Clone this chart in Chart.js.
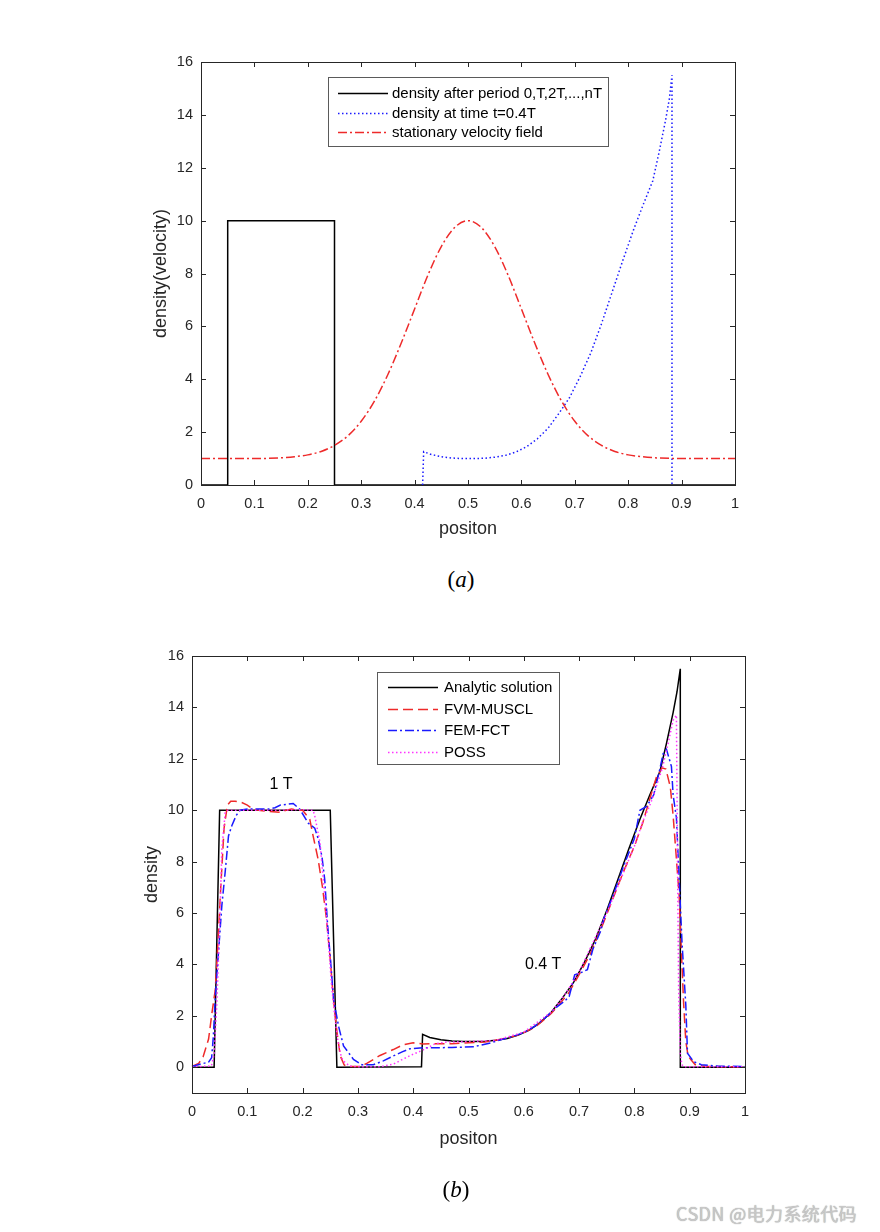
<!DOCTYPE html>
<html>
<head>
    <meta charset="utf-8">
    <title>Density transport</title>
    <script src="https://cdn.jsdelivr.net/npm/chart.js"></script>
    <style>
        body { margin: 0; background: #fff; }
        #page { position: relative; width: 880px; height: 1232px; background: #fff; overflow: hidden; }
        canvas { position: absolute; left: 0; }
        .cap { position: absolute; width: 100px; text-align: center; font-family: 'Liberation Serif', 'Times New Roman', serif; font-size: 23px; line-height: 26px; color: #000; }
        #mark { position: absolute; left: 676px; top: 1200px; font-family: 'Noto Sans CJK SC', sans-serif; font-size: 18px; letter-spacing: 0.4px; color: #c8c8c8; text-shadow: 0 0 1px #999; }
    </style>
</head>
<body>
<div id="page">
    <canvas id="chartA" width="880" height="560" style="top:0"></canvas>
    <div class="cap" style="left:411px; top:567px">(<i>a</i>)</div>
    <canvas id="chartB" width="880" height="580" style="top:600px"></canvas>
    <div class="cap" style="left:406px; top:1177px">(<i>b</i>)</div>
    <div id="mark">CSDN @电力系统代码</div>
</div>

<script>
    // ---- tick values ----
    const xTicks = [0, 0.1, 0.2, 0.3, 0.4, 0.5, 0.6, 0.7, 0.8, 0.9, 1];
    const yTicks = [0, 2, 4, 6, 8, 10, 12, 14, 16];

    // ---- chart (a) ----
    const periodX = [0, 0.05, 0.05, 0.25, 0.25, 1];
    const periodY = [0, 0, 10, 10, 0, 0];

    const t04X = [0.415, 0.417, 0.43, 0.45, 0.47, 0.49, 0.51, 0.53, 0.55, 0.57, 0.59, 0.61, 0.63, 0.65, 0.67,
                  0.69, 0.71, 0.73, 0.75, 0.77, 0.79, 0.81, 0.828, 0.846, 0.858, 0.87, 0.877, 0.882, 0.882];
    const t04Y = [0, 1.26, 1.16, 1.07, 1.02, 1.0, 1.0, 1.01, 1.05, 1.12, 1.25, 1.45, 1.75, 2.15, 2.7,
                  3.3, 4.1, 5.0, 6.1, 7.3, 8.5, 9.65, 10.6, 11.5, 12.6, 13.8, 14.6, 15.5, 0];

    const velX = [0, 0.05, 0.1, 0.15, 0.175, 0.2, 0.225, 0.25, 0.275, 0.3, 0.325, 0.35, 0.375, 0.4, 0.425, 0.45,
                  0.475, 0.5, 0.525, 0.55, 0.575, 0.6, 0.625, 0.65, 0.675, 0.7, 0.725, 0.75, 0.775, 0.8, 0.825,
                  0.85, 0.9, 0.95, 1];
    const velY = [1, 1, 1, 1.03, 1.07, 1.14, 1.27, 1.5, 1.86, 2.41, 3.18, 4.18, 5.37, 6.66, 7.94, 9.02,
                  9.74, 10, 9.74, 9.02, 7.94, 6.66, 5.37, 4.18, 3.18, 2.41, 1.86, 1.5, 1.27, 1.14, 1.07,
                  1.03, 1, 1, 1];

    // ---- chart (b) ----
    const exactX = [0, 0.04, 0.05, 0.25, 0.262, 0.415, 0.417, 0.43, 0.45, 0.47, 0.49, 0.51, 0.53, 0.55, 0.57,
                    0.59, 0.61, 0.63, 0.65, 0.67, 0.69, 0.71, 0.73, 0.75, 0.77, 0.79, 0.81, 0.828, 0.846,
                    0.858, 0.87, 0.877, 0.883, 0.883, 1];
    const exactY = [0, 0, 10, 10, 0, 0.02, 1.28, 1.16, 1.07, 1.02, 1.0, 1.0, 1.01, 1.05, 1.12,
                    1.25, 1.45, 1.75, 2.15, 2.7, 3.3, 4.1, 5.0, 6.1, 7.3, 8.5, 9.65, 10.6, 11.5,
                    12.6, 13.8, 14.6, 15.5, 0, 0];

    const musclX = [0, 0.012, 0.02, 0.03, 0.036, 0.042, 0.046, 0.052, 0.058, 0.064, 0.07, 0.078, 0.09, 0.1,
                    0.11, 0.12, 0.14, 0.16, 0.17, 0.18, 0.19, 0.2, 0.213, 0.219, 0.228, 0.236, 0.243, 0.25,
                    0.256, 0.262, 0.268, 0.275, 0.28, 0.304, 0.316, 0.34, 0.364, 0.382, 0.4, 0.418, 0.45,
                    0.47, 0.5, 0.53, 0.56, 0.59, 0.62, 0.65, 0.68, 0.7, 0.72, 0.74, 0.76, 0.78, 0.8, 0.815,
                    0.83, 0.84, 0.85, 0.857, 0.865, 0.87, 0.876, 0.881, 0.885, 0.889, 0.893, 0.897, 0.902,
                    0.91, 0.93, 1];
    const musclY = [0.03, 0.15, 0.4, 1.1, 2.1, 3.0, 4.5, 7.0, 9.3, 10.2, 10.35, 10.35, 10.3, 10.2,
                    10.05, 10.0, 9.95, 9.92, 10.0, 10.05, 10.0, 10.0, 9.65, 9.0, 8.1, 7.0, 5.8, 4.2,
                    2.6, 1.4, 0.45, 0.1, 0.03, 0.03, 0.15, 0.46, 0.69, 0.88, 0.95, 0.91, 0.92,
                    0.92, 0.95, 0.98, 1.1, 1.25, 1.55, 2.1, 2.85, 3.6, 4.4, 5.4, 6.5, 7.6, 8.6, 9.5,
                    10.6, 11.3, 11.65, 11.6, 10.9, 9.8, 8.1, 6.67, 4.5, 2.5, 1.0, 0.45, 0.3,
                    0.1, 0.03, 0.02];

    const fctX = [0, 0.0145, 0.03, 0.0355, 0.0386, 0.042, 0.048, 0.054, 0.06, 0.066, 0.072, 0.08, 0.087, 0.1,
                  0.12, 0.14, 0.15, 0.16, 0.183, 0.195, 0.21, 0.222, 0.228, 0.235, 0.24, 0.245, 0.25, 0.256,
                  0.265, 0.274, 0.292, 0.307, 0.328, 0.346, 0.364, 0.38, 0.394, 0.418, 0.44, 0.47, 0.51,
                  0.54, 0.557, 0.58, 0.6, 0.62, 0.64, 0.66, 0.675, 0.682, 0.692, 0.705, 0.715, 0.725, 0.739,
                  0.745, 0.76, 0.78, 0.8, 0.81, 0.822, 0.835, 0.846, 0.852, 0.858, 0.863, 0.867, 0.87, 0.876,
                  0.881, 0.886, 0.893, 0.896, 0.907, 0.921, 0.95, 1];
    const fctY = [0.03, 0.12, 0.2, 0.37, 1.2, 2.7, 4.5, 6.3, 7.6, 9.0, 9.4, 9.8, 10.0, 10.05,
                  10.05, 10.05, 10.1, 10.2, 10.26, 10.04, 9.5, 9.3, 8.9, 8.2, 7.3, 5.6, 4.3, 2.65,
                  1.6, 0.83, 0.31, 0.1, 0.1, 0.25, 0.44, 0.6, 0.72, 0.76, 0.76, 0.77, 0.8,
                  0.95, 1.06, 1.2, 1.35, 1.6, 1.95, 2.35, 2.6, 2.75, 3.6, 3.7, 3.8, 4.6, 5.3,
                  5.8, 6.6, 7.8, 8.9, 10.0, 10.15, 10.6, 11.6, 12.2, 12.37, 12.0, 11.7, 10.6, 9.7,
                  7.3, 4.9, 2.4, 0.55, 0.22, 0.1, 0.05, 0.03];

    const possX = [0, 0.035, 0.04, 0.045, 0.05, 0.054, 0.06, 0.065, 0.1, 0.15, 0.2, 0.219, 0.222, 0.2315,
                   0.237, 0.242, 0.247, 0.252, 0.258, 0.264, 0.27, 0.274, 0.285, 0.3, 0.34, 0.364, 0.38,
                   0.394, 0.41, 0.425, 0.44, 0.46, 0.5, 0.55, 0.6, 0.65, 0.675, 0.7, 0.725, 0.75, 0.775,
                   0.8, 0.815, 0.83, 0.85, 0.86, 0.87, 0.876, 0.878, 0.88, 0.883, 0.886, 0.89, 1];
    const possY = [0.02, 0.05, 0.5, 2.5, 5.5, 8.5, 9.9, 10.0, 10.0, 10.0, 10.02, 10.0, 9.78, 8.74,
                   7.4, 6.2, 4.8, 3.3, 2.0, 1.0, 0.4, 0.24, 0.05, 0.02, 0.02, 0.12, 0.3,
                   0.45, 0.6, 0.75, 0.92, 0.98, 1.0, 1.05, 1.37, 2.15, 2.85, 3.7, 4.85, 6.0, 7.3,
                   8.6, 9.55, 10.3, 11.6, 12.5, 13.5, 13.7, 8.0, 3.0, 0.5, 0.1, 0.02, 0.02];

    const AXIS = '#262626';
    Chart.defaults.font.family = "'Liberation Sans', Arial, sans-serif";
    Chart.defaults.color = AXIS;

    const pts = (xs, ys) => xs.map((x, i) => ({ x: x, y: ys[i] }));

    function series(label, xs, ys, color, dash, order, extra) {
        return Object.assign({
            label: label,
            data: pts(xs, ys),
            borderColor: color,
            backgroundColor: color,
            borderWidth: 1.5,
            borderDash: dash,
            pointRadius: 0,
            tension: 0,
            fill: false,
            clip: 4,
            order: order
        }, extra || {});
    }

    // box, inward ticks on all four sides, legend and text notes
    const framePlugin = {
        id: 'frame',
        afterDatasetsDraw(chart, args, opts) {
            const { ctx, chartArea: a, scales } = chart;
            const sx = scales.x, sy = scales.y;
            ctx.save();
            ctx.strokeStyle = AXIS;
            ctx.lineWidth = 1;
            ctx.setLineDash([]);
            ctx.beginPath();
            sx.ticks.forEach(t => {
                const px = Math.round(sx.getPixelForValue(t.value)) + 0.5;
                ctx.moveTo(px, a.bottom); ctx.lineTo(px, a.bottom - 5);
                ctx.moveTo(px, a.top); ctx.lineTo(px, a.top + 5);
            });
            sy.ticks.forEach(t => {
                const py = Math.round(sy.getPixelForValue(t.value)) + 0.5;
                ctx.moveTo(a.left, py); ctx.lineTo(a.left + 5, py);
                ctx.moveTo(a.right, py); ctx.lineTo(a.right - 5, py);
            });
            ctx.stroke();
            ctx.strokeRect(Math.round(a.left) + 0.5, Math.round(a.top) + 0.5,
                Math.round(a.right - a.left), Math.round(a.bottom - a.top));

            (opts.notes || []).forEach(n => {
                ctx.font = "16px 'Liberation Sans', Arial, sans-serif";
                ctx.fillStyle = '#000';
                ctx.textAlign = 'center';
                ctx.textBaseline = 'middle';
                ctx.fillText(n.text, sx.getPixelForValue(n.x), sy.getPixelForValue(n.y));
            });

            const lg = opts.legend;
            if (lg) {
                ctx.fillStyle = '#fff';
                ctx.fillRect(lg.left, lg.top, lg.width, lg.height);
                ctx.strokeStyle = '#5a5a5a';
                ctx.lineWidth = 1;
                ctx.strokeRect(lg.left + 0.5, lg.top + 0.5, lg.width, lg.height);
                ctx.font = "15px 'Liberation Sans', Arial, sans-serif";
                ctx.textAlign = 'left';
                ctx.textBaseline = 'middle';
                chart.data.datasets.forEach((ds, i) => {
                    const yy = Math.round(lg.top + lg.first + i * lg.row) + 0.5;
                    ctx.setLineDash(ds.borderDash || []);
                    ctx.strokeStyle = ds.borderColor;
                    ctx.lineWidth = ds.borderWidth;
                    ctx.beginPath();
                    ctx.moveTo(lg.left + lg.lineFrom, yy);
                    ctx.lineTo(lg.left + lg.lineTo, yy);
                    ctx.stroke();
                    ctx.setLineDash([]);
                    ctx.fillStyle = '#000';
                    ctx.fillText(ds.label, lg.left + lg.textAt, yy + 0.5);
                });
            }
            ctx.restore();
        }
    };

    function makeChart(id, datasets, o) {
        return new Chart(document.getElementById(id), {
            type: 'line',
            data: { datasets: datasets },
            options: {
                responsive: false,
                animation: false,
                devicePixelRatio: 1,
                events: [],
                layout: { padding: o.padding },
                plugins: {
                    legend: { display: false },
                    tooltip: { enabled: false },
                    frame: { legend: o.legend, notes: o.notes || [] }
                },
                scales: {
                    x: {
                        type: 'linear', min: 0, max: 1,
                        afterBuildTicks: s => { s.ticks = xTicks.map(v => ({ value: v })); },
                        afterFit: s => { s.height = 60; },
                        grid: { display: false, drawTicks: false },
                        border: { display: false },
                        ticks: { padding: 10, autoSkip: false, maxRotation: 0, font: { size: 14.5 },
                                 callback: v => String(v) },
                        title: { display: true, text: 'positon', font: { size: 18 },
                                 padding: { top: 0, bottom: o.xTitlePad } }
                    },
                    y: {
                        type: 'linear', min: o.yMin, max: 16,
                        afterBuildTicks: s => { s.ticks = yTicks.map(v => ({ value: v })); },
                        afterFit: s => { s.width = 60; },
                        grid: { display: false, drawTicks: false },
                        border: { display: false },
                        ticks: { padding: 8, autoSkip: false, font: { size: 14.5 }, callback: v => String(v) },
                        title: { display: true, text: o.yTitle, font: { size: 18 },
                                 padding: { top: o.yTitlePad, bottom: 0 } }
                    }
                }
            },
            plugins: [framePlugin]
        });
    }

    makeChart('chartA', [
        series('density after period 0,T,2T,...,nT', periodX, periodY, '#000000', [], 3),
        series('density at time t=0.4T', t04X, t04Y, '#1a1aff', [1.5, 2.5], 2),
        series('stationary velocity field', velX, velY, '#ee2a2a', [9, 3, 2, 3], 1, { cubicInterpolationMode: 'monotone' })
    ], {
        padding: { left: 141, right: 145, top: 62, bottom: 15 },
        yMin: 0,
        yTitle: 'density(velocity)',
        yTitlePad: 9,
        xTitlePad: 5,
        legend: { left: 328, top: 77, width: 280, height: 69, first: 16, row: 19.5, lineFrom: 10, lineTo: 60, textAt: 64 }
    });

    makeChart('chartB', [
        series('Analytic solution', exactX, exactY, '#000000', [], 4),
        series('FVM-MUSCL', musclX, musclY, '#ee2a2a', [10, 5], 3),
        series('FEM-FCT', fctX, fctY, '#1a1aff', [9, 3, 2, 3], 2),
        series('POSS', possX, possY, '#ff33ff', [1.5, 2.5], 1)
    ], {
        padding: { left: 132, right: 135, top: 56, bottom: 27 },
        yMin: -1,
        yTitle: 'density',
        yTitlePad: 9,
        xTitlePad: 3,
        legend: { left: 377, top: 72, width: 182, height: 92, first: 15, row: 21.7, lineFrom: 11, lineTo: 61, textAt: 67 },
        notes: [
            { x: 0.161, y: 11.0, text: '1 T' },
            { x: 0.635, y: 4.0, text: '0.4 T' }
        ]
    });
</script>
</body>
</html>
